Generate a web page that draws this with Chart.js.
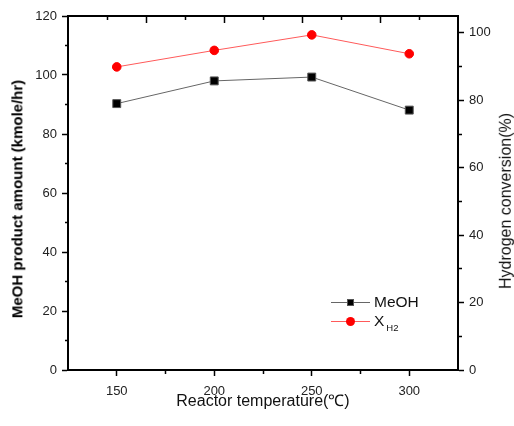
<!DOCTYPE html>
<html lang="en">
<head>
	<meta charset="UTF-8"/>
	<title>MeOH product amount vs reactor temperature</title>
	<script src="https://cdn.jsdelivr.net/npm/chart.js"></script>
	<style>
		body {
			margin: 0;
			background: #fff;
			font-family: Arial, "Liberation Sans", sans-serif;
		}
		.wrap {
			position: relative;
			width: 514px;
			height: 426px;
			overflow: hidden;
		}
		.ytitle {
			position: absolute;
			white-space: nowrap;
			line-height: 1.15;
			transform: translate(-50%, -50%) rotate(-90deg);
		}
		#ytitle-left {
			left: 17px;
			top: 199px;
			font-size: 15px;
			font-weight: bold;
			color: #000;
		}
		#ytitle-right {
			left: 506px;
			top: 201px;
			font-size: 16px;
			color: #111;
		}
		.legend {
			position: absolute;
			left: 331px;
			top: 292px;
			color: #111;
			font-size: 15.5px;
		}
		.row {
			position: relative;
			height: 19px;
			width: 100px;
		}
		.row .line {
			position: absolute;
			left: 0;
			top: 10px;
			width: 39px;
			height: 0;
			border-top: 1px solid #666;
		}
		.row .mark {
			position: absolute;
			box-sizing: border-box;
		}
		.row .txt {
			position: absolute;
			left: 43px;
			top: 1px;
			line-height: 17px;
		}
		.row sub {
			font-size: 9.5px;
			vertical-align: -5px;
			margin-left: 2px;
		}
		#dbg {
			position: absolute;
			left: 80px;
			top: 130px;
			white-space: pre;
			font: 11px monospace;
			background: #ffe;
		}
	</style>
</head>
<body>
<div class="wrap">
	<canvas id="myChart" width="514" height="426"></canvas>
	<div class="ytitle" id="ytitle-left">MeOH product amount (kmole/hr)</div>
	<div class="ytitle" id="ytitle-right">Hydrogen conversion(%)</div>
	<div class="legend">
		<div class="row">
			<div class="line"></div>
			<div class="mark" style="left:16px;top:7px;width:7px;height:7px;background:#000;border:1px solid #555;"></div>
			<div class="txt">MeOH</div>
		</div>
		<div class="row">
			<div class="line" style="border-top-color:#ff5a5a;"></div>
			<div class="mark" style="left:15px;top:6px;width:9px;height:9px;background:#f00;border-radius:50%;"></div>
			<div class="txt">X<sub>H2</sub></div>
		</div>
	</div>
	<div id="dbg"></div>
</div>

<script>
	const temperatures = [150, 200, 250, 300];
	const meohAmount = [90.3, 98.0, 99.3, 88.1];
	const h2Conversion = [89.9, 94.8, 99.4, 93.8];

	const FONT = 'Arial, "Liberation Sans", sans-serif';
	Chart.defaults.font.family = FONT;
	Chart.defaults.color = "#222";

	// minor ticks: only the half of the tick nearest the axis is drawn
	const minorIn = (every, dash) => c => (c.tick && Math.abs(c.tick.value % every) > 1e-6 ? dash : []);
	const edgeless = (lo, hi) => c => (c.tick && (c.tick.value === lo || c.tick.value === hi) ? "rgba(0,0,0,0)" : "#000");

	const log = [];

	// inward ticks on the top edge
	function drawTopTicks(chart) {
		const s = chart.scales.xTop;
		const c = chart.ctx;
		const y0 = chart.chartArea.top;
		c.save();
		c.setLineDash([]);
		c.globalAlpha = 1;
		c.globalCompositeOperation = "source-over";
		c.strokeStyle = "#000";
		c.lineWidth = 1.5;
		s.ticks.forEach(t => {
			if (t.value <= s.min || t.value >= s.max) return;
			const x = Math.round(s.getPixelForValue(t.value)) + 0.5;
			const len = Math.abs(t.value % 1) < 1e-6 ? 7 : 4;
			c.beginPath();
			c.moveTo(x, y0);
			c.lineTo(x, y0 + len);
			c.stroke();
		});
		c.restore();
	}

	const topTicks = {
		id: "topTicks",
		afterDraw(chart) {
			try {
				drawTopTicks(chart);
				const s = chart.scales.xTop;
				const px = Math.round(s.getPixelForValue(1));
				const d = chart.ctx.getImageData(px, chart.chartArea.top + 4, 1, 1).data;
				log.push("afterDraw px " + px + " top " + chart.chartArea.top + " rgba " + Array.from(d).join(","));
			} catch (e) {
				log.push("err " + e.message);
			}
		}
	};

	const ctx = document.getElementById("myChart").getContext("2d");
	const myChart = new Chart(ctx, {
		type: "line",
		data: {
			datasets: [
				{
					label: "MeOH",
					data: temperatures.map((t, i) => ({ x: t, y: meohAmount[i] })),
					xAxisID: "x",
					yAxisID: "y",
					borderColor: "#666",
					borderWidth: 1,
					pointStyle: "rect",
					pointRadius: 5.6,
					pointBackgroundColor: "#000",
					pointBorderColor: "#555",
					pointBorderWidth: 1,
					tension: 0
				},
				{
					label: "XH2",
					data: temperatures.map((t, i) => ({ x: t, y: h2Conversion[i] })),
					xAxisID: "x",
					yAxisID: "y2",
					borderColor: "#ff5a5a",
					borderWidth: 1,
					pointStyle: "circle",
					pointRadius: 4.3,
					pointBackgroundColor: "#f00",
					pointBorderColor: "#f00",
					pointBorderWidth: 1,
					tension: 0
				}
			]
		},
		options: {
			responsive: false,
			animation: false,
			layout: { padding: 0 },
			plugins: {
				legend: { display: false },
				tooltip: { enabled: false }
			},
			scales: {
				x: {
					type: "linear",
					position: "bottom",
					min: 125,
					max: 325,
					afterFit: s => { s.height = 56; },
					ticks: {
						stepSize: 25,
						autoSkip: false,
						includeBounds: false,
						maxRotation: 0,
						padding: 8,
						font: { size: 13 },
						callback: v => (v % 50 === 0 ? v : "")
					},
					grid: {
						drawOnChartArea: false,
						tickLength: 6,
						tickWidth: 1.5,
						tickColor: edgeless(125, 325),
						tickBorderDash: minorIn(50, [3, 100])
					},
					border: { color: "#000", width: 2 },
					title: {
						display: true,
						text: "Reactor temperature(℃)",
						color: "#111",
						font: { size: 16 },
						padding: { top: 0, bottom: 15 }
					}
				},
				xTop: {
					type: "linear",
					position: "top",
					min: 0,
					max: 5,
					afterFit: s => { s.height = 16; },
					ticks: { display: false, stepSize: 0.5, includeBounds: false },
					grid: { display: false },
					border: { color: "#000", width: 2 }
				},
				y: {
					type: "linear",
					position: "left",
					min: 0,
					max: 120,
					afterFit: s => { s.width = 68; },
					ticks: {
						stepSize: 10,
						autoSkip: false,
						includeBounds: false,
						padding: 5,
						font: { size: 13 },
						callback: v => (v % 20 === 0 ? v : "")
					},
					grid: {
						drawOnChartArea: false,
						tickLength: 6,
						tickWidth: 1.5,
						tickColor: "#000",
						tickBorderDash: minorIn(20, [0, 3, 3, 100])
					},
					border: { color: "#000", width: 2 }
				},
				y2: {
					type: "linear",
					position: "right",
					min: 0,
					max: 105,
					afterFit: s => { s.width = 56; },
					ticks: {
						stepSize: 10,
						autoSkip: false,
						includeBounds: false,
						padding: 5,
						font: { size: 13 },
						callback: v => (v % 20 === 0 ? v : "")
					},
					grid: {
						drawOnChartArea: false,
						tickLength: 6,
						tickWidth: 1.5,
						tickColor: "#000",
						tickBorderDash: minorIn(20, [3, 100])
					},
					border: { color: "#000", width: 2 }
				}
			}
		},
		plugins: [topTicks]
	});

	// if the ticks are gone a moment later, draw them again and report what happened
	setTimeout(() => {
		const s = myChart.scales.xTop;
		const px = Math.round(s.getPixelForValue(1));
		const d = myChart.ctx.getImageData(px, myChart.chartArea.top + 4, 1, 1).data;
		if (d[3] < 100) {
			log.push("later rgba " + Array.from(d).join(",") + " -> redrawn");
			drawTopTicks(myChart);
			document.getElementById("dbg").innerText = log.join("\n");
		}
	}, 300);
</script>
</body>
</html>
